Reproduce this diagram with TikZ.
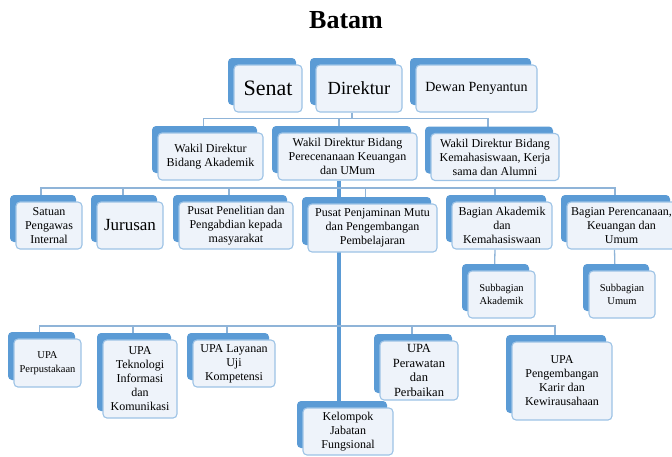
\documentclass[tikz,border=0pt]{standalone}
\usepackage{fontspec}
\setmainfont{Liberation Serif}
\usetikzlibrary{positioning,shadows,backgrounds}
\definecolor{backblue}{RGB}{91,155,213}
\definecolor{frontfill}{RGB}{238,243,250}
\definecolor{frontline}{RGB}{157,195,230}
\definecolor{linkblue}{RGB}{143,180,216}
\tikzset{x=1pt, y=-1pt,
  unit/.style={draw=frontline, fill=frontfill, line width=1.1pt, rounded corners=4pt,
    align=center, inner sep=1pt, font=\fontsize{12}{14}\selectfont,
    general shadow={fill=backblue, shadow xshift=-6pt, shadow yshift=7pt}},
  dims/.style 2 args={minimum width=#1pt, minimum height=#2pt},
  link/.style={draw=linkblue, line width=1.3pt},
  spine/.style={draw=backblue, line width=3.3pt}}

\begin{document}
\begin{tikzpicture}
  \useasboundingbox (0,0) rectangle (672,456);

  \node[anchor=base, font=\fontsize{26}{30}\selectfont\bfseries] (title) at (346,28) {Batam};

  % pimpinan
  \node[unit, dims={68}{47}, font=\fontsize{22}{24}\selectfont] (senat) at (268,88.5) {Senat};
  \node[unit, dims={86}{47}, font=\fontsize{18.5}{22}\selectfont] (dir) at (359,88.5) {Direktur};
  \node[unit, dims={121}{47}, font=\fontsize{14}{16}\selectfont] (dewan) at (476.5,88.5) {Dewan Penyantun};

  % wakil direktur
  \node[unit, dims={105}{47}] (wda) at (210.5,156.5) {Wakil Direktur\\Bidang Akademik};
  \node[unit, dims={139}{47}] (wdb) at (347.5,156.5) {Wakil Direktur Bidang\\Perecenanaan Keuangan\\dan UMum};
  \node[unit, dims={128}{47}] (wdc) at (495,157) {Wakil Direktur Bidang\\Kemahasiswaan, Kerja\\sama dan Alumni};

  % unit dan bagian
  \node[unit, dims={66}{47}] (spi) at (49,225.5) {Satuan\\Pengawas\\Internal};
  \node[unit, dims={66}{47}, font=\fontsize{17}{20}\selectfont] (jur) at (130,225.5) {Jurusan};
  \node[unit, dims={114}{47}] (p3m) at (236,225.5) {Pusat Penelitian dan\\Pengabdian kepada\\masyarakat};
  \node[unit, dims={129}{48}] (p4mp) at (372.5,228) {Pusat Penjaminan Mutu\\dan Pengembangan\\Pembelajaran};
  \node[unit, dims={100}{47}] (bak) at (502,225.5) {Bagian Akademik\\dan\\Kemahasiswaan};
  \node[unit, dims={109}{47}] (bpku) at (621.5,225.5) {Bagian Perencanaan,\\Keuangan dan\\Umum};

  \node[unit, dims={67}{47}, font=\fontsize{10.5}{12.5}\selectfont] (sba) at (501.5,294.5) {Subbagian\\Akademik};
  \node[unit, dims={66}{47}, font=\fontsize{10.5}{12.5}\selectfont] (sbu) at (622,294.5) {Subbagian\\Umum};

  % UPA
  \node[unit, dims={67}{48}, font=\fontsize{10.5}{14}\selectfont] (upap) at (47.5,363) {UPA\\Perpustakaan};
  \node[unit, dims={74}{78}] (upatik) at (140,379) {UPA\\Teknologi\\Informasi\\dan\\Komunikasi};
  \node[unit, dims={82}{47}] (upauk) at (234,363.5) {UPA Layanan\\Uji\\Kompetensi};
  \node[unit, dims={78}{59}, font=\fontsize{12.5}{14.5}\selectfont] (upapp) at (419,370.5) {UPA\\Perawatan\\dan\\Perbaikan};
  \node[unit, dims={100}{78}] (upak) at (562,381) {UPA\\Pengembangan\\Karir dan\\Kewirausahaan};
  \node[unit, dims={90}{47}] (kjf) at (348,431.5) {Kelompok\\Jabatan\\Fungsional};

  \begin{scope}[on background layer]
    \coordinate (busA) at (0,118.5);
    \coordinate (busB) at (0,188);
    \coordinate (busC) at (0,326);

    \draw[link] ([xshift=-7pt]dir.south) -- ([xshift=-7pt]dir.south |- busA);
    \draw[link] ([xshift=-7pt]wda.north) |- ([xshift=-7pt]wdc.north |- busA) -- ([xshift=-7pt]wdc.north);
    \draw[link] ([xshift=-8.5pt]wdb.north) -- ([xshift=-8.5pt]wdb.north |- busA);

    \draw[spine] ([xshift=-8.5pt]wdb.south) -- ([xshift=-8.5pt]wdb.south |- kjf.north);

    \draw[link] ([xshift=-8pt]spi.north) |- ([xshift=-6.5pt]bpku.north |- busB) -- ([xshift=-6.5pt]bpku.north);
    \foreach \n in {jur,p3m,p4mp,bak}
      \draw[link] ([xshift=-7pt]\n.north) -- ([xshift=-7pt]\n.north |- busB);

    \draw[link] ([xshift=-7pt]bak.south) -- ([xshift=-7pt]sba.north);
    \draw[link] ([xshift=-7pt]bpku.south) -- ([xshift=-7pt]sbu.north);

    \draw[link] ([xshift=-8pt]upap.north) |- ([xshift=-7pt]upak.north |- busC) -- ([xshift=-7pt]upak.north);
    \foreach \n in {upatik,upauk,upapp}
      \draw[link] ([xshift=-7pt]\n.north) -- ([xshift=-7pt]\n.north |- busC);
  \end{scope}
\end{tikzpicture}
\end{document}
